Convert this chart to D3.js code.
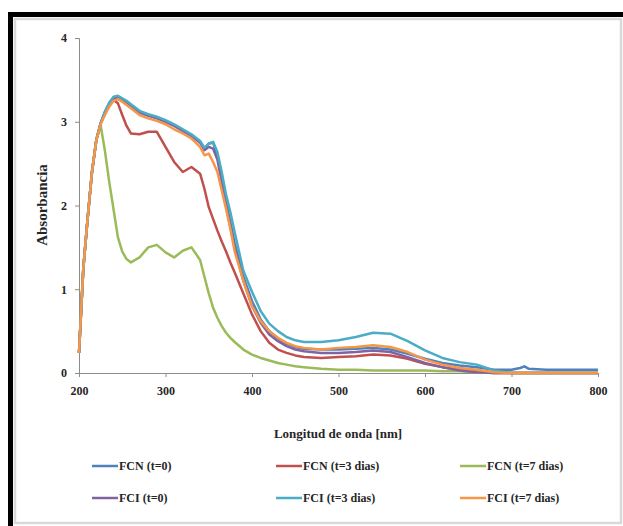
<!DOCTYPE html>
<meta charset="utf-8">
<script src="https://d3js.org/d3.v7.min.js"></script>
<style>
  body { margin: 0; background: #fff; }
  svg text { font-family: "Liberation Serif", "DejaVu Serif", serif !important; font-weight: bold; fill: #262626; }
</style>
<div id="my_dataviz"></div>
<script>
// wavelengths (nm) shared by all spectra
var wavelengths = [200,205,210,215,220,225,230,235,240,245,250,255,260,270,280,290,300,310,320,330,
                   340,345,350,355,360,365,370,375,380,390,400,410,420,430,440,450,460,480,500,520,
                   540,560,580,600,620,640,660,680,700,710,715,720,740,760,780,800];

// absorbance for each sample
var fcn0 = [0.24,1.25,1.85,2.4,2.78,2.98,3.12,3.22,3.29,3.30,3.27,3.24,3.2,3.12,3.08,3.05,3.01,2.96,2.9,2.84,
            2.76,2.68,2.74,2.75,2.6,2.33,2.05,1.8,1.55,1.15,0.86,0.64,0.5,0.41,0.35,0.31,0.29,0.28,0.28,0.29,
            0.30,0.28,0.23,0.17,0.12,0.09,0.07,0.04,0.04,0.06,0.08,0.05,0.04,0.04,0.04,0.04];
var fcn3 = [0.24,1.25,1.85,2.4,2.78,2.98,3.1,3.2,3.26,3.22,3.08,2.95,2.86,2.85,2.88,2.88,2.70,2.52,2.40,2.46,
            2.38,2.2,1.98,1.84,1.7,1.57,1.45,1.32,1.2,0.95,0.7,0.5,0.36,0.28,0.24,0.21,0.19,0.18,0.19,0.2,
            0.22,0.21,0.17,0.11,0.07,0.04,0.02,0,0,0,0,0,0,0,0,0];
var fcn7 = [0.24,1.25,1.85,2.4,2.78,2.96,2.65,2.28,1.95,1.62,1.45,1.36,1.32,1.38,1.50,1.53,1.44,1.38,1.46,1.50,
            1.35,1.15,0.95,0.78,0.66,0.56,0.48,0.42,0.37,0.28,0.22,0.18,0.15,0.12,0.1,0.08,0.07,0.05,0.04,0.04,
            0.03,0.03,0.03,0.03,0.02,0.02,0.01,0,0,0,0,0,0,0,0,0];
var fci0 = [0.24,1.25,1.85,2.4,2.78,2.98,3.11,3.21,3.28,3.29,3.26,3.23,3.19,3.11,3.07,3.04,3.0,2.95,2.89,2.83,
            2.75,2.66,2.7,2.68,2.55,2.28,2.0,1.74,1.5,1.1,0.8,0.6,0.46,0.38,0.32,0.28,0.26,0.24,0.24,0.25,
            0.27,0.25,0.19,0.12,0.07,0.03,0.01,0,0,0,0,0,0,0,0,0];
var fci3 = [0.24,1.25,1.85,2.4,2.78,2.98,3.12,3.23,3.30,3.31,3.28,3.25,3.21,3.13,3.09,3.06,3.02,2.97,2.91,2.85,
            2.77,2.69,2.74,2.76,2.64,2.4,2.13,1.92,1.68,1.22,0.97,0.74,0.59,0.5,0.43,0.39,0.37,0.37,0.39,0.43,
            0.48,0.47,0.38,0.27,0.18,0.13,0.1,0.03,0,0,0,0,0,0,0,0];
var fci7 = [0.24,1.25,1.85,2.4,2.78,2.97,3.08,3.18,3.25,3.27,3.24,3.2,3.16,3.08,3.04,3.01,2.97,2.91,2.86,2.8,
            2.7,2.6,2.62,2.52,2.4,2.18,1.96,1.72,1.45,1.1,0.8,0.62,0.5,0.42,0.36,0.32,0.3,0.28,0.3,0.31,
            0.33,0.31,0.25,0.16,0.1,0.06,0.04,0.01,0,0,0,0,0,0,0,0];

var seriesNames = ["FCN (t=0)", "FCN (t=3 dias)", "FCN (t=7 dias)", "FCI (t=0)", "FCI (t=3 dias)", "FCI (t=7 dias)"];
var seriesValues = [fcn0, fcn3, fcn7, fci0, fci3, fci7];
var seriesColors = ["#4F81BD", "#C0504D", "#9BBB59", "#8064A2", "#4BACC6", "#F79646"];

var xTicks = [200, 300, 400, 500, 600, 700, 800];
var yTicks = [0, 1, 2, 3, 4];

var serif = "'Liberation Serif', 'DejaVu Serif', serif";

// frame of the picture
var W = 623, H = 526;
var svg = d3.select("#my_dataviz")
    .append("svg")
    .attr("width", W)
    .attr("height", H);

svg.append("rect").attr("x", 0).attr("y", 0).attr("width", W).attr("height", H).attr("fill", "#fff");
// black edge top and left
svg.append("rect").attr("x", 8).attr("y", 12).attr("width", W - 8).attr("height", 5).attr("fill", "#000");
svg.append("rect").attr("x", 8).attr("y", 12).attr("width", 5).attr("height", H - 12).attr("fill", "#000");
// grey chart area border
svg.append("rect")
    .attr("x", 15).attr("y", 19)
    .attr("width", 606).attr("height", 504)
    .attr("fill", "#fff")
    .attr("stroke", "#d9d9d9")
    .attr("stroke-width", 2.5);

// scales
var x = d3.scaleLinear().domain([200, 800]).range([79, 598]);
var y = d3.scaleLinear().domain([0, 4]).range([373, 38]);

// axes
var xAxis = svg.append("g")
    .attr("transform", "translate(0," + y(0) + ")")
    .call(d3.axisBottom(x).tickValues(xTicks).tickSize(4).tickPadding(9).tickFormat(d3.format("d")));
var yAxis = svg.append("g")
    .attr("transform", "translate(" + x(200) + ",0)")
    .call(d3.axisLeft(y).tickValues(yTicks).tickSize(4).tickPadding(8).tickFormat(d3.format("d")));

[xAxis, yAxis].forEach(function(a) {
    a.attr("font-family", serif);
    a.select(".domain").attr("stroke", "#8c8c8c");
    a.selectAll(".tick line").attr("stroke", "#8c8c8c");
    a.selectAll(".tick text").attr("font-size", 12).style("font-family", serif).attr("fill", "#262626");
});

// axis titles
svg.append("text")
    .attr("x", 338).attr("y", 438)
    .attr("text-anchor", "middle")
    .attr("font-size", 13)
    .style("font-family", serif)
    .text("Longitud de onda [nm]");
svg.append("text")
    .attr("transform", "translate(47,205) rotate(-90)")
    .attr("text-anchor", "middle")
    .attr("font-size", 15)
    .style("font-family", serif)
    .text("Absorbancia");

// lines
var line = d3.line()
    .x(function(d) { return x(d[0]); })
    .y(function(d) { return y(d[1]); });

svg.selectAll("mySpectra")
    .data(seriesValues)
    .enter()
    .append("path")
    .attr("d", function(vals) { return line(wavelengths.map(function(w, i) { return [w, vals[i]]; })); })
    .attr("stroke", function(d, i) { return seriesColors[i]; })
    .attr("stroke-width", 2.5)
    .attr("stroke-linejoin", "round")
    .attr("fill", "none");

// legend, 3 columns x 2 rows
var legendX = [92, 276, 460];
var legendY = [466, 498];
var leg = svg.selectAll("myLegend")
    .data(seriesNames)
    .enter()
    .append("g")
    .attr("transform", function(d, i) { return "translate(" + legendX[i % 3] + "," + legendY[Math.floor(i / 3)] + ")"; });
leg.append("line")
    .attr("x1", 0).attr("x2", 26)
    .attr("stroke", function(d, i) { return seriesColors[i]; })
    .attr("stroke-width", 2.5);
leg.append("text")
    .attr("x", 27).attr("y", 4)
    .attr("font-size", 12)
    .style("font-family", serif)
    .text(function(d) { return d; });
</script>
